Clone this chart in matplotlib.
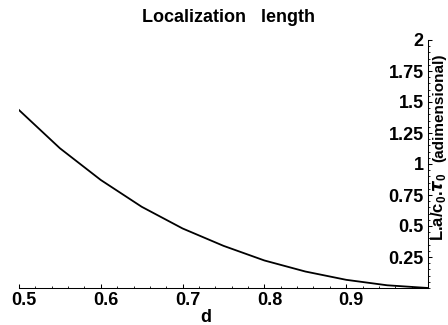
import matplotlib
matplotlib.use("Agg")
import matplotlib.pyplot as plt
from matplotlib.ticker import MultipleLocator, FixedLocator
from matplotlib.transforms import ScaledTranslation

# values
d_vals = [0.50, 0.55, 0.60, 0.65, 0.70, 0.75, 0.80, 0.85, 0.90, 0.95, 1.00]
loc_len = [1.435, 1.127, 0.871, 0.655, 0.48, 0.34, 0.222, 0.133, 0.066, 0.022, 0.0]

x_ticks = [0.5, 0.6, 0.7, 0.8, 0.9]
x_labels = ["0.5", "0.6", "0.7", "0.8", "0.9"]
y_ticks = [0.25, 0.5, 0.75, 1.0, 1.25, 1.5, 1.75, 2.0]
y_labels = ["0.25", "0.5", "0.75", "1", "1.25", "1.5", "1.75", "2"]

plt.rcParams["font.family"] = ["Liberation Sans", "DejaVu Sans"]
plt.rcParams["font.weight"] = "bold"
plt.rcParams["mathtext.fontset"] = "custom"
plt.rcParams["mathtext.bf"] = "Liberation Sans:bold"

W, H = 448, 325
fig = plt.figure(figsize=(W / 100, H / 100), dpi=100)
ax = fig.add_axes([19 / W, 1 - 288 / H, (428 - 19) / W, (288 - 40) / H])

ax.plot(d_vals, loc_len, color="black", lw=1.3, solid_joinstyle="round")
ax.set_xlim(0.5, 1.0)
ax.set_ylim(0, 2)

ax.spines["top"].set_visible(False)
ax.spines["right"].set_visible(False)
ax.spines["left"].set_position(("data", 1.0))
ax.spines["left"].set_linewidth(0.75)
ax.spines["bottom"].set_linewidth(0.75)

ax.xaxis.set_major_locator(FixedLocator(x_ticks))
ax.set_xticklabels(x_labels, fontsize=13, fontweight="bold")
ax.xaxis.set_minor_locator(MultipleLocator(0.02))
ax.yaxis.set_major_locator(FixedLocator(y_ticks))
ax.set_yticklabels(y_labels, fontsize=13, fontweight="bold")
ax.yaxis.set_minor_locator(MultipleLocator(0.05))
ax.tick_params(axis="both", which="major", direction="in", length=3, width=0.75, pad=3)
ax.tick_params(axis="both", which="minor", direction="in", length=1.6, width=0.6)
ax.patch.set_visible(False)

# Mathematica puts the x tick labels a little to the right of the ticks
shift = ScaledTranslation(5 / 100, 0, fig.dpi_scale_trans)
for lab in ax.get_xticklabels():
    lab.set_transform(lab.get_transform() + shift)

fig.text(228 / W, 1 - 17 / H, "Localization   length", ha="center", va="center",
         fontsize=13, fontweight="bold")
fig.text(206 / W, 1 - 317 / H, "d", ha="center", va="center",
         fontsize=13, fontweight="bold")
fig.text(443 / W, 1 - 241 / H, r"L.a/c$_\mathbf{0}$.$\tau_\mathbf{0}$", rotation=90,
         rotation_mode="anchor", ha="left", va="baseline", fontsize=12, fontweight="bold")
fig.text(443 / W, 1 - 162 / H, "(adimensional)", rotation=90,
         rotation_mode="anchor", ha="left", va="baseline", fontsize=11, fontweight="bold")

fig.savefig("out.png", dpi=100)
